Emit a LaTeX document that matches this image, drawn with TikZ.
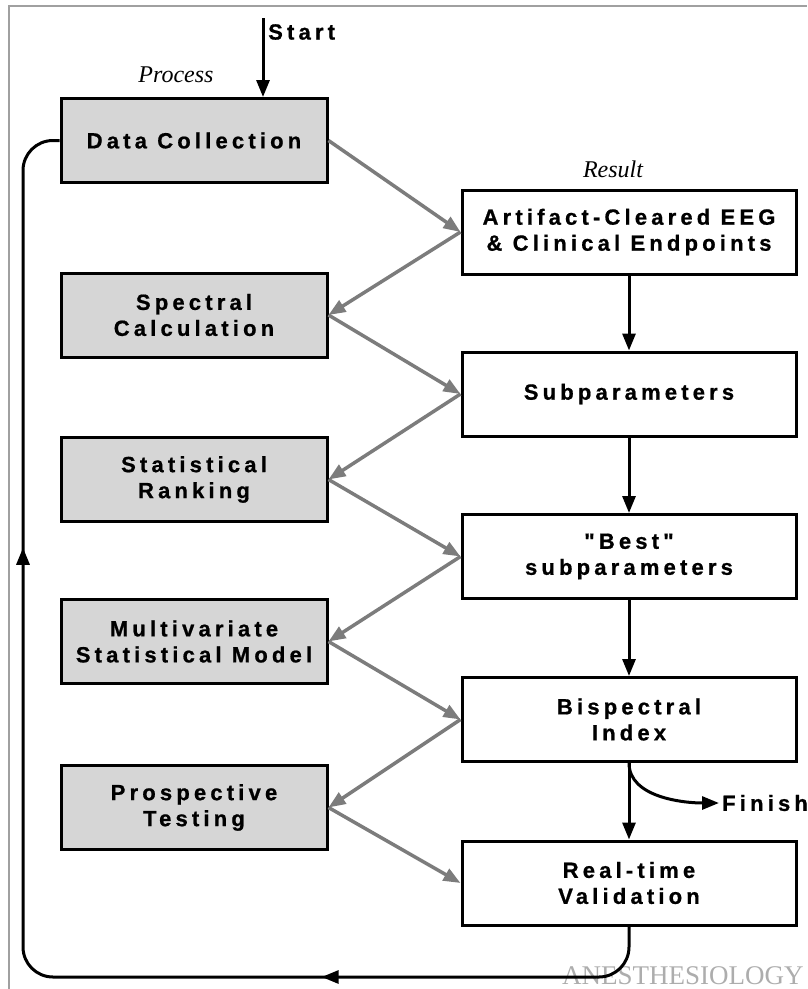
\documentclass[tikz,border=0pt]{standalone}
\usepackage{fontspec}
\usetikzlibrary{arrows.meta,decorations.markings}
\newfontfamily\boxfont[LetterSpace=19,FakeBold=0.8]{Liberation Sans}
\newfontfamily\labfont{Liberation Serif}
\definecolor{grayarrow}{HTML}{7C7C7C}
\definecolor{procfill}{HTML}{D6D6D6}
\definecolor{framegray}{HTML}{A0A0A0}
\definecolor{wmgray}{HTML}{ADADAD}
\begin{document}
\begin{tikzpicture}[x=1pt,y=-1pt,
  box/.style={draw=black, line width=3pt, minimum height=84pt, inner sep=0pt,
    align=center, font=\boxfont\bfseries\fontsize{22}{26}\selectfont},
  proc/.style={box, fill=procfill, minimum width=266pt},
  res/.style={box, fill=white, minimum width=334pt},
  garrow/.style={draw=grayarrow, line width=3.5pt, -{Triangle[length=17pt,width=13pt]}},
  barrow/.style={draw=black, line width=3pt, -{Triangle[length=17pt,width=13pt]}},
  italab/.style={font=\labfont\itshape\fontsize{24}{24}\selectfont, inner sep=0pt},
  bigtext/.style={font=\boxfont\bfseries\fontsize{22}{22}\selectfont, inner sep=0pt}
]
\useasboundingbox (0,0) rectangle (807,989);
% frame
\draw[framegray, line width=1.5pt] (9,989) -- (9,6) -- (807,6);

% watermark
\node[anchor=base west, text=wmgray, inner sep=0pt,
  font=\labfont\fontsize{27}{27}\selectfont] (wm) at (562,984) {ANESTHESIOLOGY};

% labels
\node[italab] (proclab) at (176,75) {Process};
\node[italab] (reslab) at (613,169) {Result};

% process boxes
\node[proc] (dc)    at (194,140.5) {Data Collection};
\node[proc] (spec)  at (194,315)   {Spectral\\Calculation};
\node[proc] (stat)  at (194,479.5) {Statistical\\Ranking};
\node[proc] (multi) at (194,641.5) {Multivariate\\Statistical Model};
\node[proc] (prosp) at (194,807.5) {Prospective\\Testing};

% result boxes
\node[res] (art)  at (629,232)   {Artifact-Cleared EEG\\\& Clinical Endpoints};
\node[res] (sub)  at (629,394)   {Subparameters};
\node[res] (best) at (629,556.5) {"Best"\\subparameters};
\node[res] (bis)  at (629,719.5) {Bispectral\\Index};
\node[res] (real) at (629,883)   {Real-time\\Validation};

% start
\coordinate (s0) at (263,18);
\node[bigtext, anchor=west] (start) at (268,32) {Start};
\draw[barrow] (s0) -- (s0 |- dc.north);

% gray zigzag
\draw[garrow] (dc.east) -- (art.west);
\draw[garrow] (art.west) -- (spec.east);
\draw[garrow] (spec.east) -- (sub.west);
\draw[garrow] (sub.west) -- (stat.east);
\draw[garrow] (stat.east) -- (best.west);
\draw[garrow] (best.west) -- (multi.east);
\draw[garrow] (multi.east) -- (bis.west);
\draw[garrow] (bis.west) -- (prosp.east);
\draw[garrow] (prosp.east) -- (real.west);

% black vertical arrows
\draw[barrow] (art.south) -- (sub.north);
\draw[barrow] (sub.south) -- (best.north);
\draw[barrow] (best.south) -- (bis.north);
\draw[barrow] (bis.south) -- (real.north);

% finish
\node[bigtext, anchor=west, inner sep=3pt] (fin) at (719,803) {Finish};
\draw[barrow] (bis.south) to[out=-90,in=180,looseness=0.9] (fin.west);

% feedback loop
\coordinate (lb) at (23,977);
\draw[black, line width=3pt, rounded corners=30pt,
  postaction={decorate},
  decoration={markings,
    mark=at position 345pt with {\arrow{Triangle[length=17pt,width=13pt]}},
    mark=at position 1060pt with {\arrow{Triangle[length=17pt,width=13pt]}}}]
  (real.south) |- (lb) |- (dc.west);
\end{tikzpicture}
\end{document}
